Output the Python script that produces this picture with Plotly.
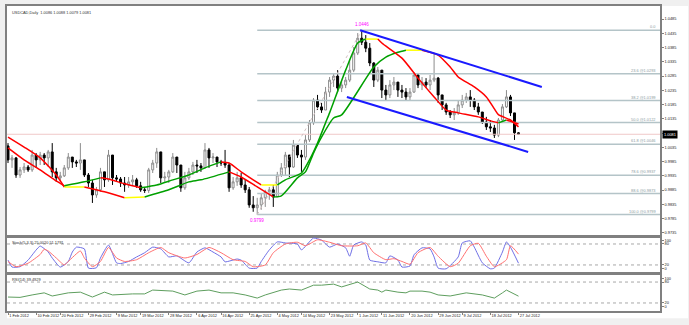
import plotly.graph_objects as go
import pandas as pd

# ---------------- data ----------------
dates = pd.bdate_range("2012-02-01", "2012-07-27")          # 128 daily bars
bar_index = list(range(len(dates)))

opens = [1.0040,0.9991,0.9998,0.9938,0.9956,0.9966,0.9956,1.0008,0.9991,1.0008,
         0.9998,1.0019,0.9949,0.9928,0.9935,0.9963,1.0001,0.9984,0.9980,0.9991,
         0.9938,0.9910,0.9868,0.9886,0.9949,0.9921,1.0008,0.9928,0.9924,0.9910,
         0.9903,0.9914,0.9921,0.9900,0.9886,0.9884,0.9956,0.9980,1.0019,0.9928,
         0.9931,0.9949,1.0001,0.9973,0.9893,0.9928,0.9949,0.9973,0.9970,0.9963,
         1.0026,0.9998,1.0001,0.9984,0.9980,0.9973,0.9893,0.9914,0.9928,0.9903,
         0.9886,0.9833,0.9823,0.9833,0.9858,0.9879,0.9886,0.9861,0.9938,0.9963,
         1.0008,0.9966,1.0043,1.0008,1.0001,1.0061,1.0121,1.0201,1.0177,1.0166,
         1.0229,1.0271,1.0285,1.0243,1.0254,1.0271,1.0306,1.0366,1.0418,1.0404,
         1.0383,1.0331,1.0271,1.0306,1.0236,1.0219,1.0254,1.0264,1.0236,1.0229,
         1.0212,1.0229,1.0289,1.0254,1.0264,1.0254,1.0271,1.0278,1.0219,1.0184,
         1.0159,1.0149,1.0156,1.0184,1.0201,1.0212,1.0201,1.0177,1.0159,1.0124,
         1.0107,1.0103,1.0078,1.0131,1.0177,1.0212,1.0156,1.0086]
highs = [1.0050,1.0008,1.0001,0.9966,0.9980,0.9973,1.0026,1.0015,1.0019,1.0015,
         1.0026,1.0050,0.9963,0.9949,0.9973,1.0015,0.9998,0.9991,1.0050,0.9991,
         0.9945,0.9921,0.9896,0.9963,0.9949,1.0026,0.9991,0.9938,0.9931,0.9931,
         0.9931,0.9938,0.9928,0.9914,0.9896,0.9963,0.9991,1.0033,0.9998,0.9949,
         0.9956,1.0015,0.9991,0.9966,0.9949,0.9963,0.9984,0.9991,0.9980,1.0050,
         1.0033,1.0015,1.0001,0.9991,1.0026,0.9980,0.9931,0.9949,0.9945,0.9921,
         0.9896,0.9864,0.9858,0.9875,0.9886,0.9896,0.9903,0.9949,0.9980,1.0019,
         0.9998,1.0061,1.0043,1.0026,1.0078,1.0131,1.0208,1.0219,1.0191,1.0247,
         1.0282,1.0296,1.0306,1.0271,1.0282,1.0341,1.0387,1.0436,1.0446,1.0429,
         1.0401,1.0334,1.0317,1.0289,1.0254,1.0271,1.0282,1.0264,1.0254,1.0243,
         1.0243,1.0299,1.0296,1.0282,1.0278,1.0289,1.0366,1.0282,1.0219,1.0191,
         1.0166,1.0173,1.0201,1.0219,1.0226,1.0236,1.0208,1.0191,1.0159,1.0142,
         1.0131,1.0114,1.0138,1.0187,1.0236,1.0219,1.0156,1.0088]
lows = [0.9980,0.9963,0.9928,0.9928,0.9945,0.9949,0.9949,0.9963,0.9973,0.9973,
        0.9966,0.9931,0.9914,0.9914,0.9931,0.9956,0.9963,0.9966,0.9956,0.9931,
        0.9896,0.9840,0.9858,0.9879,0.9896,0.9914,0.9903,0.9914,0.9896,0.9879,
        0.9893,0.9903,0.9893,0.9879,0.9875,0.9875,0.9945,0.9963,0.9910,0.9914,
        0.9910,0.9945,0.9945,0.9879,0.9886,0.9921,0.9938,0.9945,0.9949,0.9963,
        0.9963,0.9980,0.9966,0.9970,0.9963,0.9879,0.9886,0.9900,0.9893,0.9875,
        0.9823,0.9809,0.9799,0.9816,0.9826,0.9851,0.9826,0.9861,0.9931,0.9938,
        0.9931,0.9963,0.9998,0.9949,0.9991,1.0054,1.0114,1.0166,1.0156,1.0166,
        1.0212,1.0247,1.0229,1.0229,1.0243,1.0264,1.0299,1.0359,1.0394,1.0369,
        1.0320,1.0247,1.0264,1.0208,1.0201,1.0208,1.0236,1.0212,1.0208,1.0201,
        1.0201,1.0226,1.0243,1.0236,1.0243,1.0236,1.0264,1.0191,1.0166,1.0149,
        1.0138,1.0131,1.0149,1.0173,1.0191,1.0177,1.0166,1.0149,1.0117,1.0096,
        1.0089,1.0068,1.0071,1.0121,1.0173,1.0145,1.0061,1.0079]
closes = [0.9991,0.9998,0.9938,0.9956,0.9966,0.9956,1.0008,0.9991,1.0008,0.9998,
          1.0019,0.9949,0.9928,0.9935,0.9963,1.0001,0.9984,0.9980,0.9991,0.9938,
          0.9910,0.9868,0.9886,0.9949,0.9921,1.0008,0.9928,0.9924,0.9910,0.9903,
          0.9914,0.9921,0.9900,0.9886,0.9884,0.9956,0.9980,1.0019,0.9928,0.9931,
          0.9949,1.0001,0.9973,0.9893,0.9928,0.9949,0.9973,0.9970,0.9963,1.0026,
          0.9998,1.0001,0.9984,0.9980,0.9973,0.9893,0.9914,0.9928,0.9903,0.9886,
          0.9833,0.9823,0.9833,0.9858,0.9879,0.9886,0.9861,0.9938,0.9963,1.0008,
          0.9966,1.0043,1.0008,1.0001,1.0061,1.0121,1.0201,1.0177,1.0166,1.0229,
          1.0271,1.0285,1.0243,1.0254,1.0271,1.0306,1.0366,1.0418,1.0404,1.0383,
          1.0331,1.0271,1.0306,1.0236,1.0219,1.0254,1.0264,1.0236,1.0229,1.0212,
          1.0229,1.0289,1.0254,1.0264,1.0254,1.0271,1.0278,1.0219,1.0184,1.0159,
          1.0149,1.0156,1.0184,1.0201,1.0212,1.0201,1.0177,1.0159,1.0124,1.0107,
          1.0103,1.0078,1.0131,1.0177,1.0212,1.0156,1.0086,1.0081]

# moving averages at the bars where they could be read
fast_bars = [0,4,8,12,14,19,23,25,29,33,37,41,45,49,53,55,58,61,63,65,67,69,73,75,77,79,80,84,87,89,92,93,98,102,106,109,
             112,117,120,122,124,127]
ma_fast = [1.0033,0.9991,0.9956,0.9917,0.9900,0.9914,0.9928,0.9924,0.9907,0.9893,0.9903,0.9921,0.9938,0.9963,0.9984,0.9980,
           0.9949,0.9921,0.9903,0.9903,0.9903,0.9921,0.9945,0.9991,1.0050,1.0121,1.0156,1.0306,1.0401,1.0415,1.0415,1.0401,
           1.0348,1.0278,1.0212,1.0166,1.0156,1.0142,1.0128,1.0121,1.0131,1.0117]
slow_bars = [0,4,8,12,14,19,24,29,34,40,45,48,55,58,62,66,68,72,74,76,78,81,83,91,94,97,99,102,103,107,110,112,116,119,121,
             122,125,127]
ma_slow = [1.0071,1.0036,0.9998,0.9938,0.9896,0.9896,0.9879,0.9858,0.9861,0.9886,0.9914,0.9921,0.9949,0.9931,0.9896,0.9861,
           0.9865,0.9928,0.9949,1.0015,1.0071,1.0138,1.0149,1.0317,1.0352,1.0369,1.0376,1.0376,1.0376,1.0359,1.0317,1.0282,
           1.0247,1.0212,1.0170,1.0150,1.0131,1.0107]

# Stochastic(5,3,3)
stoch_k_bars = [0,1,3,5,7,8,10,11,13,15,16,17,19,20,22,23,25,27,28,30,32,34,36,38,40,42,45,47,49,51,53,54,57,58,60,62,63,65,67,69,
                72,73,76,78,80,82,84,85,86,88,89,90,92,94,95,97,98,100,101,103,105,106,107,109,112,113,115,116,118,120,121,123,124,125,127]
stoch_k = [34,14,15,34,63,74,57,40,14,30,57,71,66,11,12,40,77,26,24,30,43,55,71,66,43,46,26,57,69,57,43,29,37,34,11,11,30,63,86,83,
           80,63,97,91,71,80,69,45,77,86,77,34,29,26,46,34,14,17,49,69,66,43,11,9,43,83,89,71,26,9,11,57,86,71,25]
stoch_d_bars = [0,2,5,8,9,10,12,14,15,18,19,21,23,25,27,29,32,35,38,40,44,47,50,53,56,59,61,64,66,69,72,74,77,80,83,87,89,91,94,96,
                98,100,102,105,107,110,112,115,117,119,121,124,125,127]
stoch_d = [30,15,25,50,65,60,40,20,30,60,40,15,30,70,40,30,35,55,70,55,40,50,70,55,35,30,15,20,55,80,85,75,92,85,75,75,83,55,35,38,
           30,22,55,70,45,15,25,75,82,45,15,35,75,51]

# RSI(14)
rsi_bars = [0,3,6,9,11,15,18,21,24,26,31,34,36,41,44,47,50,53,56,59,62,64,68,70,73,76,78,81,83,87,90,92,93,94,97,99,100,103,105,107,
            110,114,118,121,123,124,127]
rsi_vals = [37,36,43,49,40,49,51,37,51,43,46,46,57,54,43,54,57,49,49,43,34,43,57,60,57,71,71,74,66,80,60,57,51,57,51,49,54,54,51,43,
            40,49,43,34,49,57,39.5]

# Fibonacci retracement (low bar -> high bar)
fib_levels = ["0.0", "23.6", "38.2", "50.0", "61.8", "78.6", "88.6", "100.0"]
fib_prices = [1.0446, 1.0293, 1.0199, 1.0122, 1.0046, 0.9937, 0.9873, 0.9799]
swing_low_bar, swing_low = 62, 0.9799
swing_high_bar, swing_high = 88, 1.0446

# price channel
chan_upper_bars, chan_upper = [87.6, 132.8], [1.0446, 1.0247]
chan_lower_bars, chan_lower = [84.3, 129.4], [1.0212, 1.0019]

last_price = 1.0081
title_text = "USDCAD,Daily  1.0086 1.0088 1.0079 1.0081"
stoch_text = "Stoch(5,3,3) 25.0020 51.1791"
rsi_text = "RSI(14) 39.4929"

date_tick_days = ["2012-02-01","2012-02-10","2012-02-20","2012-02-29","2012-03-09","2012-03-19","2012-03-28",
                  "2012-04-06","2012-04-16","2012-04-25","2012-05-04","2012-05-14","2012-05-23","2012-06-01",
                  "2012-06-11","2012-06-20","2012-06-29","2012-07-09","2012-07-18","2012-07-27"]
price_ticks = [0.9735 + 0.005 * k for k in range(16)]
osc_tick_text = ["0", "20", "80", "100"]
osc_tick_pos = [9, 20, 80, 91]          # MT nudges the 0/100 captions inside the pane

# ---------------- styling ----------------
FONT = "Liberation Sans"
FS = 3.9
FRAME = "#808080"
XMIN, XMAX = -0.25, 162.2
UP, DOWN, FLAT = "#00a000", "#ff0000", "#ffff00"

highs = [max(h, o, c) for h, o, c in zip(highs, opens, closes)]
lows = [min(l, o, c) for l, o, c in zip(lows, opens, closes)]

fig = go.Figure()

# white chart window
fig.add_shape(type="rect", xref="paper", yref="paper", x0=0, x1=1.043, y0=-0.024, y1=1,
              fillcolor="white", line=dict(width=0), layer="below")

# bid line
fig.add_trace(go.Scatter(x=[XMIN, XMAX], y=[last_price, last_price], mode="lines",
                         line=dict(color="#f0c8c8", width=1), hoverinfo="skip", showlegend=False))

# fib levels
for lv, p in zip(fib_levels, fib_prices):
    fig.add_trace(go.Scatter(x=[swing_low_bar, XMAX], y=[p, p], mode="lines",
                             line=dict(color="#b4c4c8", width=1.5), hoverinfo="skip", showlegend=False))
    txt = lv if lv == "0.0" else f"{lv} @{p:.4f}"
    fig.add_annotation(x=0.997, xref="paper", y=p, yref="y", text=txt, showarrow=False,
                       xanchor="right", yanchor="bottom", yshift=-1,
                       font=dict(family=FONT, size=FS, color="#8a9aa0"))
fig.add_trace(go.Scatter(x=[swing_low_bar, swing_high_bar], y=[swing_low, swing_high], mode="lines",
                         line=dict(color="#d0c0c0", width=1, dash="dot"), hoverinfo="skip", showlegend=False))

# candles
fig.add_trace(go.Candlestick(x=bar_index, open=opens, high=highs, low=lows, close=closes,
                             increasing=dict(line=dict(color="#8c8c8c", width=1), fillcolor="#ffffff"),
                             decreasing=dict(line=dict(color="#000000", width=1), fillcolor="#000000"),
                             whiskerwidth=0, hoverinfo="skip", showlegend=False))

# slope-coloured moving averages (green rising, red falling, yellow flat)
def slope_runs(xs, ys, eps_per_bar):
    runs = []
    for i in range(len(xs) - 1):
        d = (ys[i + 1] - ys[i]) / (xs[i + 1] - xs[i])
        col = UP if d > eps_per_bar else (DOWN if d < -eps_per_bar else FLAT)
        if runs and runs[-1][0] == col:
            runs[-1][1].append(xs[i + 1]); runs[-1][2].append(ys[i + 1])
        else:
            runs.append([col, [xs[i], xs[i + 1]], [ys[i], ys[i + 1]]])
    return runs

for bx, series in ((slow_bars, ma_slow), (fast_bars, ma_fast)):
    for col, xs, ys in slope_runs(bx, series, 0.00006):
        fig.add_trace(go.Scatter(x=xs, y=ys, mode="lines", line=dict(color=col, width=1.5, shape="spline", smoothing=0.6),
                                 hoverinfo="skip", showlegend=False))

# channel
for bx, by in ((chan_upper_bars, chan_upper), (chan_lower_bars, chan_lower)):
    fig.add_trace(go.Scatter(x=bx, y=by, mode="lines", line=dict(color="#1a1aff", width=2),
                             hoverinfo="skip", showlegend=False))

# swing labels
fig.add_annotation(x=swing_high_bar, y=swing_high, text=f"{swing_high:.4f}", showarrow=False,
                   yanchor="bottom", yshift=1, font=dict(family=FONT, size=4.5, color="#ff00ff"))
fig.add_annotation(x=swing_low_bar, y=swing_low, text=f"{swing_low:.4f}", showarrow=False,
                   yanchor="top", yshift=-1, font=dict(family=FONT, size=4.5, color="#ff00ff"))

# price box on the axis
fig.add_annotation(x=1.0, xref="paper", y=last_price, yref="y", text=f"{last_price:.4f}", showarrow=False,
                   xanchor="left", bgcolor="#000000", borderpad=1, xshift=2,
                   font=dict(family=FONT, size=FS, color="#ffffff"))

# oscillator level lines
for lvl in (80, 20):
    for xa, ya in (("x2", "y2"), ("x3", "y3")):
        fig.add_trace(go.Scatter(x=[XMIN, XMAX], y=[lvl, lvl], mode="lines", xaxis=xa, yaxis=ya,
                                 line=dict(color="#a8a8a8", width=1, dash="dot"), hoverinfo="skip", showlegend=False))
# stochastic
fig.add_trace(go.Scatter(x=stoch_k_bars, y=stoch_k, mode="lines", xaxis="x2", yaxis="y2",
                         line=dict(color="#6f6fe6", width=1, shape="spline", smoothing=0.5), hoverinfo="skip", showlegend=False))
fig.add_trace(go.Scatter(x=stoch_d_bars, y=stoch_d, mode="lines", xaxis="x2", yaxis="y2",
                         line=dict(color="#ff7070", width=1, shape="spline", smoothing=0.5), hoverinfo="skip", showlegend=False))
# RSI
fig.add_trace(go.Scatter(x=rsi_bars, y=rsi_vals, mode="lines", xaxis="x3", yaxis="y3",
                         line=dict(color="#5e9e5e", width=1), hoverinfo="skip", showlegend=False))

# panel captions
for txt, yp in ((title_text, 0.994), (stoch_text, 0.2395), (rsi_text, 0.118)):
    fig.add_annotation(x=0.004, xref="paper", y=yp, yref="paper", text=txt, showarrow=False,
                       xanchor="left", yanchor="top", font=dict(family=FONT, size=FS, color="#333333"))

tick_pos = [int(dates.get_loc(pd.Timestamp(d))) for d in date_tick_days]
tick_txt = [f"{pd.Timestamp(d).day} {pd.Timestamp(d):%b %Y}" for d in date_tick_days]

axis_common = dict(showgrid=False, zeroline=False, showline=True, mirror=True, linecolor=FRAME,
                   linewidth=1.5, automargin=False)
tickfont = dict(family=FONT, size=FS, color="#222222")

fig.update_layout(
    width=689, height=325, margin=dict(l=7, r=29, t=6, b=14),
    paper_bgcolor="#f0f0f0", plot_bgcolor="#ffffff", showlegend=False,
    xaxis=dict(domain=[0, 1], range=[XMIN, XMAX], anchor="y", showticklabels=False, ticks="",
               rangeslider=dict(visible=False), **axis_common),
    xaxis2=dict(domain=[0, 1], range=[XMIN, XMAX], anchor="y2", matches="x", showticklabels=False, ticks="", **axis_common),
    xaxis3=dict(domain=[0, 1], range=[XMIN, XMAX], anchor="y3", matches="x", tickvals=tick_pos, ticktext=tick_txt,
                tickangle=0, ticks="outside", ticklen=2, tickcolor=FRAME, ticklabelposition="outside right",
                tickfont=tickfont, **axis_common),
    yaxis=dict(domain=[0.2459, 1], range=[0.9724, 1.0531], side="right", tickvals=price_ticks, tickformat=".4f",
               ticks="outside", ticklen=2, tickcolor=FRAME, tickfont=tickfont, **axis_common),
    yaxis2=dict(domain=[0.1246, 0.2426], range=[-3, 100], side="right", anchor="x2", tickvals=osc_tick_pos,
                ticktext=osc_tick_text, ticks="outside", ticklen=2, tickcolor=FRAME, tickfont=tickfont, **axis_common),
    yaxis3=dict(domain=[0, 0.1213], range=[-3, 103], side="right", anchor="x3", tickvals=osc_tick_pos,
                ticktext=osc_tick_text, ticks="outside", ticklen=2, tickcolor=FRAME, tickfont=tickfont, **axis_common),
)

fig.write_html("out.html")
